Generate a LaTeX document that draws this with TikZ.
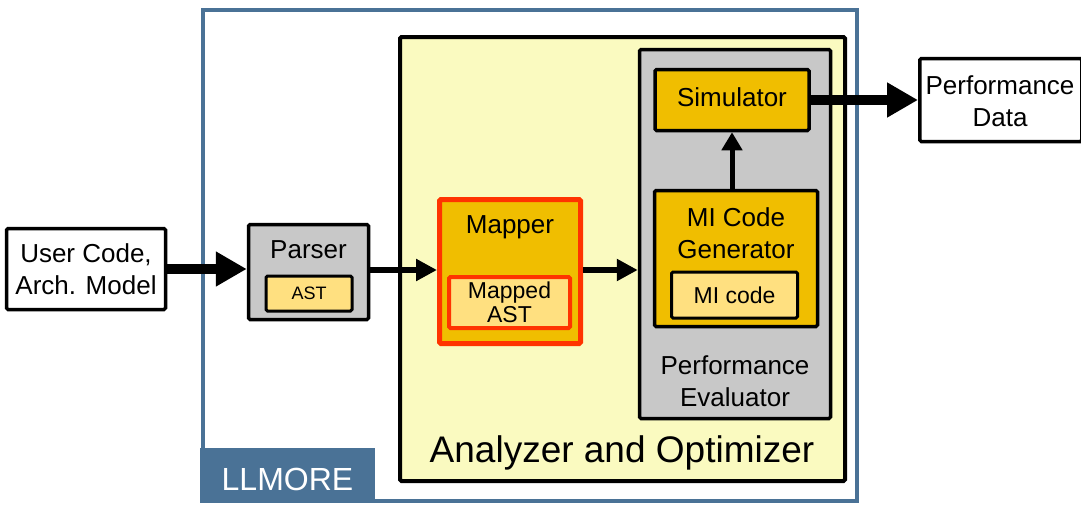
\documentclass[tikz,border=0pt]{standalone}
\usepackage{fontspec}
\setmainfont{Liberation Sans}
\usetikzlibrary{arrows.meta}

\definecolor{llblue}{RGB}{74,114,150}
\definecolor{paleyellow}{RGB}{250,250,192}
\definecolor{boxgray}{RGB}{200,200,200}
\definecolor{gold}{RGB}{240,190,0}
\definecolor{lightgold}{RGB}{255,224,128}
\definecolor{mapred}{RGB}{255,51,0}

\tikzset{
  box/.style={draw=black, line width=3.5pt, rounded corners=1.5pt, inner sep=0pt},
  whitebox/.style={box, fill=white},
  graybox/.style={box, fill=boxgray},
  goldbox/.style={box, fill=gold},
  innerbox/.style={box, line width=3pt, fill=lightgold},
  redbox/.style={box, draw=mapred, line width=5pt, fill=gold},
  redinner/.style={box, draw=mapred, line width=4pt, fill=lightgold},
  txt/.style={align=center, inner sep=0pt, font=\fontsize{26}{32}\selectfont},
  smalltxt/.style={align=center, inner sep=0pt, font=\fontsize{23}{24}\selectfont},
  bigarrow/.style={line width=10pt, -{Triangle[length=31pt,width=33pt]}},
  smallarrow/.style={line width=6pt, -{Triangle[length=21pt,width=21pt]}},
  uparrow/.style={line width=5pt, -{Triangle[length=18pt,width=20pt]}},
}

\begin{document}
\begin{tikzpicture}[x=1pt,y=-1pt]
\useasboundingbox (0,0) rectangle (1081,506);

% LLMORE frame and its tab
\node[draw=llblue, line width=4pt, inner sep=0pt, minimum width=654pt, minimum height=491pt] (llmore) at (530,255.5) {};
\node[fill=llblue, inner sep=0pt, minimum width=175pt, minimum height=55pt] (lltab) at (287.5,475.5) {};
\node[txt, text=white, font=\fontsize{32}{34}\selectfont] (lltxt) at (287.5,479) {LLMORE};

% Analyzer and Optimizer
\node[box, line width=4pt, fill=paleyellow, minimum width=445pt, minimum height=444pt] (ao) at (622.5,259) {};
\node[txt, font=\fontsize{37}{40}\selectfont] (aotxt) at (622,453) {Analyzer and Optimizer};

% Performance Evaluator
\node[graybox, minimum width=191pt, minimum height=369pt] (pe) at (735,234) {};
\node[txt] (petxt) at (735,381) {Performance\\Evaluator};

\node[goldbox, minimum width=154pt, minimum height=61pt] (sim) at (732,100) {};
\node[txt] (simtxt) at (732,97.5) {Simulator};

\node[goldbox, minimum width=163pt, minimum height=136pt] (migen) at (736,258.5) {};
\node[txt] (migentxt) at (736,233) {MI Code\\Generator};
\node[innerbox, minimum width=126pt, minimum height=46pt] (mic) at (734.5,295) {};
\node[smalltxt] (mictxt) at (mic.center) {MI code};

% Mapper
\node[redbox, minimum width=141pt, minimum height=144pt] (mapper) at (510,271.5) {};
\node[txt] (mappertxt) at (510,227) {Mapper};
\node[redinner, minimum width=121pt, minimum height=51pt] (mast) at (509.5,302.5) {};
\node[smalltxt] (masttxt) at (mast.center) {Mapped\\AST};

% Parser
\node[graybox, minimum width=120pt, minimum height=95pt] (parser) at (308.5,272) {};
\node[txt] (parsertxt) at (308.5,250) {Parser};
\node[innerbox, minimum width=86pt, minimum height=35pt] (ast) at (309,293.5) {};
\node[txt, font=\fontsize{18}{20}\selectfont] (asttxt) at (ast.center) {AST};

% Inputs and outputs
\node[whitebox, minimum width=159pt, minimum height=81pt] (user) at (86,269) {};
\node[txt] (usertxt) at (user.center) {User Code,\\Arch. Model};

\node[whitebox, minimum width=162pt, minimum height=83pt] (pdata) at (1000.75,100) {};
\node[txt] (pdatatxt) at (1000,101) {Performance\\Data};

% Data flow
\draw[bigarrow] (user.east) -- (user.east -| parser.west);
\draw[smallarrow] (parser.east |- 0,270) -- (mapper.west |- 0,270);
\draw[smallarrow] (mapper.east |- 0,270) -- (pe.west |- 0,270);
\draw[uparrow] (sim.south |- migen.north) -- (sim.south);
\draw[bigarrow] (sim.east) -- (sim.east -| pdata.west);
\end{tikzpicture}
\end{document}
